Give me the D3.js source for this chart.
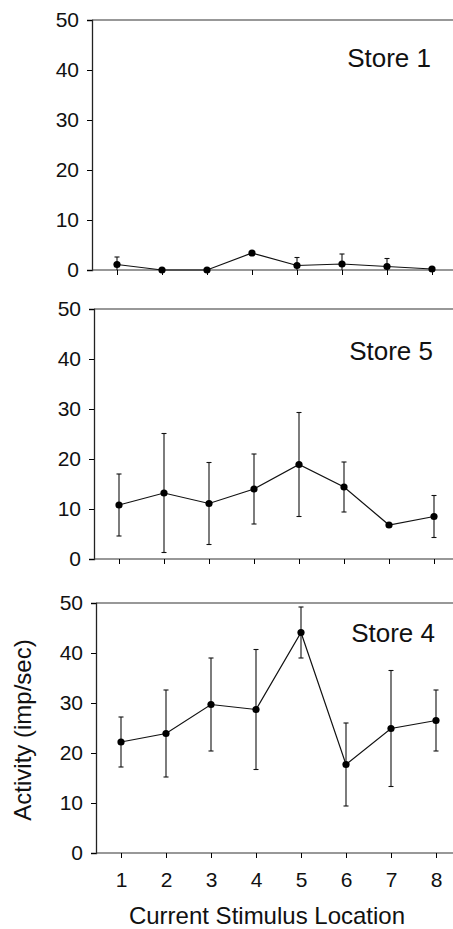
<!DOCTYPE html>
<html>
<head>
<meta charset="utf-8">
<script src="https://cdn.jsdelivr.net/npm/d3@7"></script>
<style>
  body { margin: 0; background: #fff; }
  text { font-family: "Liberation Sans", Arial, sans-serif; fill: #111; }
</style>
</head>
<body>
<div id="chart"></div>
<script>
const width = 453;
const height = 929;

// données
const locations = [1, 2, 3, 4, 5, 6, 7, 8];
const yTicks = [0, 10, 20, 30, 40, 50];
const panelNames = ["Store 1", "Store 5", "Store 4"];
const store1Mean = [1.1, 0.0, 0.0, 3.4, 0.9, 1.2, 0.7, 0.2];
const store1Err = [1.5, 0, 0, 0, 1.6, 2.0, 1.6, 0];
const store5Mean = [10.8, 13.2, 11.1, 14.0, 18.9, 14.4, 6.8, 8.5];
const store5Err = [6.2, 11.9, 8.2, 7.0, 10.4, 5.0, 0, 4.2];
const store4Mean = [22.2, 23.9, 29.7, 28.7, 44.1, 17.7, 24.9, 26.5];
const store4Err = [5.0, 8.7, 9.3, 12.0, 5.1, 8.3, 11.6, 6.1];

const series = [
  { name: panelNames[0], mean: store1Mean, err: store1Err },
  { name: panelNames[1], mean: store5Mean, err: store5Err },
  { name: panelNames[2], mean: store4Mean, err: store4Err }
];

// mise en page des trois panneaux (un peu décalés comme sur le scan)
const panelTop = [20, 309, 603];
const panelLeft = [92, 94, 96];
const panelH = 250;
const labelY = [47, 51, 39];

const svg = d3.select("#chart")
  .append("svg")
  .attr("width", width)
  .attr("height", height)
  .attr("viewBox", `0 0 ${width} ${height}`);

series.forEach((s, p) => {
  const left = panelLeft[p];
  const top = panelTop[p];
  const x = d3.scaleLinear().domain([1, 8]).range([left + 25, left + 340]);
  const y = d3.scaleLinear().domain([0, 50]).range([top + panelH, top]);

  const g = svg.append("g");

  // cadre : haut, gauche, axe du bas
  g.append("line")
    .attr("x1", left).attr("x2", width)
    .attr("y1", y(50)).attr("y2", y(50))
    .attr("stroke", "#333").attr("stroke-width", 1.2);

  const yAxis = g.append("g")
    .attr("transform", `translate(${left},0)`)
    .call(d3.axisLeft(y).tickValues(yTicks).tickSize(5).tickPadding(8));
  yAxis.select(".domain").attr("stroke", "#222").attr("stroke-width", 1.3);
  yAxis.selectAll("text")
    .attr("font-size", 21)
    .attr("font-family", "Liberation Sans, Arial, sans-serif")
    .attr("fill", "#111");

  const xAxis = g.append("g")
    .attr("transform", `translate(0,${y(0)})`)
    .call(d3.axisBottom(x).tickValues(locations).tickSize(5)
      .tickFormat(p === 2 ? d3.format("d") : ""));
  xAxis.select(".domain")
    .attr("d", `M${left},0H${width}`)
    .attr("stroke", "#333").attr("stroke-width", 1.2);
  xAxis.selectAll("text")
    .attr("font-size", 21)
    .attr("dy", "1.25em")
    .attr("font-family", "Liberation Sans, Arial, sans-serif")
    .attr("fill", "#111");

  const pts = locations.map((loc, i) => ({ loc, m: s.mean[i], e: s.err[i] }));

  // barres d'erreur
  const eb = g.append("g").attr("stroke", "#111").attr("stroke-width", 1.1);
  pts.filter(d => d.e > 0).forEach(d => {
    const lo = Math.max(0, d.m - d.e), hi = d.m + d.e;
    eb.append("line")
      .attr("x1", x(d.loc)).attr("x2", x(d.loc))
      .attr("y1", y(lo)).attr("y2", y(hi));
    eb.append("line")
      .attr("x1", x(d.loc) - 2.5).attr("x2", x(d.loc) + 2.5)
      .attr("y1", y(hi)).attr("y2", y(hi));
    if (d.m - d.e > 0) {
      eb.append("line")
        .attr("x1", x(d.loc) - 2.5).attr("x2", x(d.loc) + 2.5)
        .attr("y1", y(lo)).attr("y2", y(lo));
    }
  });

  // ligne et points
  g.append("path")
    .datum(pts)
    .attr("fill", "none")
    .attr("stroke", "#111")
    .attr("stroke-width", 1.2)
    .attr("d", d3.line().x(d => x(d.loc)).y(d => y(d.m)));

  g.selectAll("circle")
    .data(pts)
    .enter()
    .append("circle")
    .attr("cx", d => x(d.loc))
    .attr("cy", d => y(d.m))
    .attr("r", 3.6)
    .attr("fill", "#000");

  g.append("text")
    .attr("x", left + 339)
    .attr("y", top + labelY[p])
    .attr("text-anchor", "end")
    .attr("font-size", 26)
    .text(s.name);
});

// titres des axes
svg.append("text")
  .attr("x", 267)
  .attr("y", 924)
  .attr("text-anchor", "middle")
  .attr("font-size", 24)
  .text("Current Stimulus Location");

svg.append("text")
  .attr("transform", "translate(31,730) rotate(-90)")
  .attr("text-anchor", "middle")
  .attr("font-size", 24)
  .text("Activity (imp/sec)");
</script>
</body>
</html>
